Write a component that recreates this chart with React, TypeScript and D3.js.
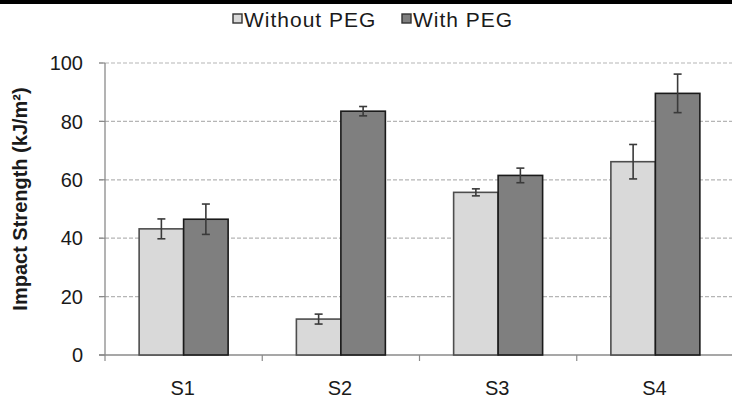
import { useEffect, useRef } from 'react'
import * as d3 from 'd3'

const W = 732, H = 398
const categories = ['S1', 'S2', 'S3', 'S4']
const seriesNames = ['Without PEG', 'With PEG']
const withoutPEG = [43.2, 12.3, 55.7, 66.2]
const withoutErr = [3.4, 1.7, 1.2, 5.9]
const withPEG = [46.5, 83.5, 61.5, 89.6]
const withErr = [5.2, 1.6, 2.5, 6.6]
const yTicks = [0, 20, 40, 60, 80, 100]
const FILLS = ['#d9d9d9', '#7f7f7f']
const STROKES = ['#4d4d4d', '#1a1a1a']
const FONT = '"Liberation Sans", Arial, sans-serif'

export default function App() {
  const svgRef = useRef<SVGSVGElement>(null)

  useEffect(() => {
    const svg = d3.select(svgRef.current)
    svg.selectAll('*').remove()

    const left = 105, right = 734, top = 63, bottom = 355
    const x0 = d3.scaleBand<string>().domain(categories).range([left, right])
    const x1 = d3.scaleBand<string>().domain(seriesNames).range([0, x0.bandwidth()]).paddingInner(0).paddingOuter(0.767)
    const y = d3.scaleLinear([0, 100], [bottom, top])

    // top black strip
    svg.append('rect').attr('x', 0).attr('y', 0).attr('width', W).attr('height', 4).attr('fill', '#000')

    // gridlines
    yTicks.filter((t) => t > 0).forEach((t) => {
      svg.append('line')
        .attr('x1', left - 6).attr('x2', W).attr('y1', y(t)).attr('y2', y(t))
        .attr('stroke', '#b5b5b5').attr('stroke-width', 1.2).attr('stroke-dasharray', '4,2')
    })

    // y axis
    svg.append('line').attr('x1', left).attr('x2', left).attr('y1', top).attr('y2', bottom)
      .attr('stroke', '#8a8a8a').attr('stroke-width', 1.3)
    yTicks.forEach((t) => {
      svg.append('line').attr('x1', left - 6).attr('x2', left).attr('y1', y(t)).attr('y2', y(t))
        .attr('stroke', '#8a8a8a').attr('stroke-width', 1.2)
      svg.append('text').attr('x', 83).attr('y', y(t)).attr('dy', '0.36em')
        .attr('text-anchor', 'end').attr('font-family', FONT).attr('font-size', 20)
        .attr('fill', '#1a1a1a').text(t)
    })

    // x axis
    svg.append('line').attr('x1', left - 6).attr('x2', W).attr('y1', bottom).attr('y2', bottom)
      .attr('stroke', '#8a8a8a').attr('stroke-width', 1.3)
    categories.forEach((c) => {
      const xs = x0(c)!
      svg.append('line').attr('x1', xs).attr('x2', xs).attr('y1', bottom).attr('y2', bottom + 6)
        .attr('stroke', '#8a8a8a').attr('stroke-width', 1.2)
      svg.append('text').attr('x', xs + x0.bandwidth() / 2 - 1).attr('y', 395)
        .attr('text-anchor', 'middle').attr('font-family', FONT).attr('font-size', 20)
        .attr('fill', '#1a1a1a').text(c)
    })

    // bars
    const vals = [withoutPEG, withPEG]
    const errs = [withoutErr, withErr]
    seriesNames.forEach((s, si) => {
      categories.forEach((c, ci) => {
        const bx = x0(c)! + x1(s)!
        const v = vals[si][ci]
        svg.append('rect')
          .attr('x', bx).attr('y', y(v)).attr('width', x1.bandwidth()).attr('height', y(0) - y(v))
          .attr('fill', FILLS[si]).attr('stroke', STROKES[si]).attr('stroke-width', 1.6)
        const cx = bx + x1.bandwidth() / 2
        const e = errs[si][ci]
        const g = svg.append('g').attr('stroke', '#3a3a3a').attr('stroke-width', 1.6)
        g.append('line').attr('x1', cx).attr('x2', cx).attr('y1', y(v + e)).attr('y2', y(v - e))
        g.append('line').attr('x1', cx - 4).attr('x2', cx + 4).attr('y1', y(v + e)).attr('y2', y(v + e))
        g.append('line').attr('x1', cx - 4).attr('x2', cx + 4).attr('y1', y(v - e)).attr('y2', y(v - e))
      })
    })

    // y title
    svg.append('text')
      .attr('transform', `translate(27,199) rotate(-90)`)
      .attr('text-anchor', 'middle').attr('font-family', FONT).attr('font-size', 20)
      .attr('font-weight', 'bold').attr('fill', '#1a1a1a')
      .text('Impact Strength (kJ/m²)')

    // legend
    const legX = [233, 402]
    seriesNames.forEach((s, si) => {
      svg.append('rect').attr('x', legX[si]).attr('y', 14).attr('width', 9).attr('height', 9)
        .attr('fill', FILLS[si]).attr('stroke', '#333').attr('stroke-width', 1.4)
      svg.append('text').attr('x', legX[si] + 11).attr('y', 27)
        .attr('font-family', FONT).attr('font-size', 21).attr('letter-spacing', 1)
        .attr('fill', '#1a1a1a').text(s)
    })
  }, [])

  return (
    <svg ref={svgRef} width={W} height={H}
      style={{ position: 'absolute', left: 0, top: 0, background: '#fff', display: 'block' }} />
  )
}
